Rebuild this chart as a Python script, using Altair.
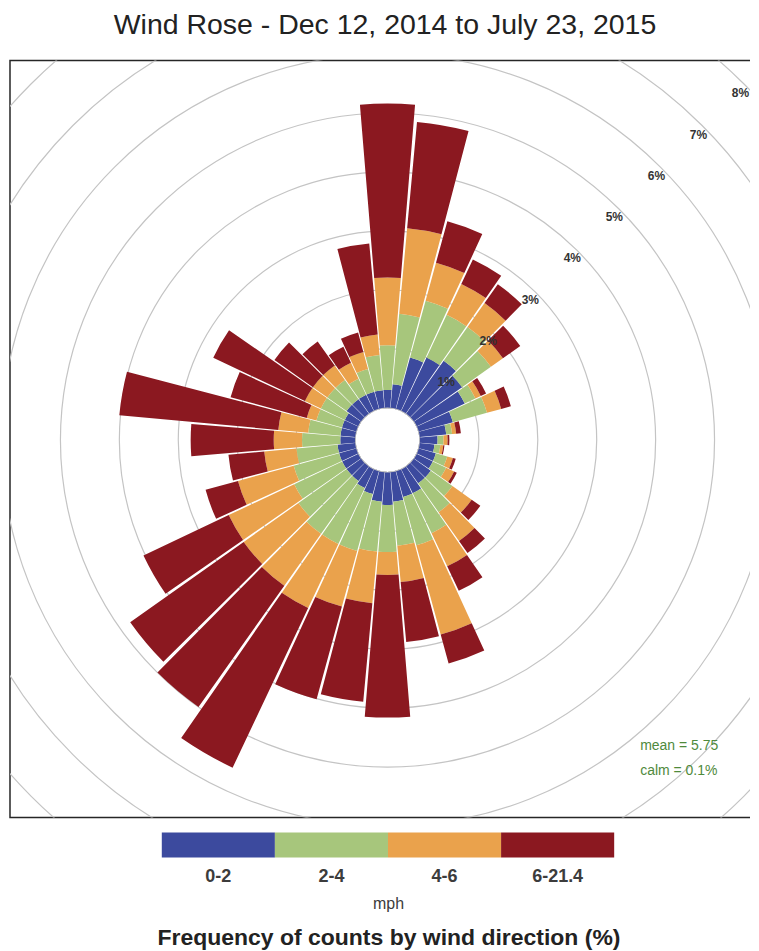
import math
import altair as alt
import pandas as pd

title_text = "Wind Rose - Dec 12, 2014 to July 23, 2015"
footer_text = "Frequency of counts by wind direction (%)"
unit_text = "mph"
stats_lines = ["mean = 5.75", "calm = 0.1%"]

directions = [10, 20, 30, 40, 50, 60, 70, 80, 90, 100, 110, 120,
              130, 140, 150, 160, 170, 180, 190, 200, 210, 220, 230, 240,
              250, 260, 270, 280, 290, 300, 310, 320, 330, 340, 350, 360]
speed_bins = ["0-2", "2-4", "4-6", "6-21.4"]
bin_colors = ["#3c4a9e", "#a7c67c", "#eaa24c", "#8b1820"]

# cumulative frequency (%) reached at the outer edge of each speed bin
edge_0_2 = [0.40, 0.90, 1.00, 1.10, 1.00, 0.90, 0.60, 0.45, 0.30, 0.25, 0.30, 0.30,
            0.35, 0.35, 0.45, 0.45, 0.50, 0.55, 0.50, 0.40, 0.35, 0.30, 0.30, 0.30,
            0.30, 0.30, 0.25, 0.25, 0.25, 0.25, 0.30, 0.30, 0.30, 0.30, 0.30, 0.30]
edge_2_4 = [1.60, 1.90, 1.80, 1.80, 1.60, 1.10, 1.20, 0.55, 0.40, 0.35, 0.50, 0.55,
            0.80, 0.95, 1.20, 1.30, 1.25, 1.35, 1.35, 1.40, 1.40, 1.40, 1.30, 1.20,
            1.10, 1.00, 0.90, 0.80, 0.70, 0.70, 0.70, 0.70, 0.60, 0.70, 0.90, 1.06]
edge_4_6 = [3.06, 2.57, 2.38, 2.30, 1.85, 1.20, 1.45, 0.62, 0.47, 0.40, 0.60, 0.70,
            1.20, 1.55, 1.82, 2.87, 1.87, 1.74, 2.23, 2.38, 2.60, 2.48, 2.44, 2.43,
            2.08, 1.55, 1.38, 1.31, 0.87, 1.00, 1.00, 1.00, 0.90, 1.00, 1.25, 2.21]
edge_all = [4.87, 3.30, 2.84, 2.69, 2.21, 1.30, 1.62, 0.70, 0.50, 0.42, 0.65, 0.75,
            1.38, 1.80, 2.28, 3.38, 2.89, 4.16, 3.91, 4.01, 5.60, 5.00, 4.80, 4.03,
            2.65, 2.16, 2.79, 4.02, 2.21, 2.72, 1.80, 1.50, 1.20, 1.34, 2.80, 5.16]

grid_pct = [1, 2, 3, 4, 5, 6, 7, 8]
grid_label = ["1%", "2%", "3%", "4%", "5%", "6%", "7%", "8%"]
label_angle = 45.5

# ---- tables built from the arrays above ----
half_width = 4.7
rows = []
for i, d in enumerate(directions):
    edges = [0.0, edge_0_2[i], edge_2_4[i], edge_4_6[i], edge_all[i]]
    for k, b in enumerate(speed_bins):
        rows.append({"dir": d, "speed": b, "t0": d - half_width, "t1": d + half_width,
                     "r0": edges[k], "r1": edges[k + 1]})
bars_df = pd.DataFrame(rows)
grid_df = pd.DataFrame({"pct": grid_pct, "label": grid_label,
                        "ang": [label_angle] * len(grid_pct)})
legend_df = pd.DataFrame({"speed": speed_bins})

VIEW_W, VIEW_H = 741, 758
CX, CY = 378, 380

THETA = alt.Scale(domain=[0, 360], range=[0, 2 * math.pi])
RSCALE = alt.Scale(type="linear", domain=[0, 8], range=[32.5, 32.5 + 8 * 59])
CSCALE = alt.Scale(domain=speed_bins, range=bin_colors)
FONT = "Liberation Sans"

grid = alt.Chart(grid_df).mark_arc(filled=False, stroke="#c4c4c4", strokeWidth=1.2, clip=True).encode(
    x=alt.value(CX), y=alt.value(CY),
    theta=alt.value(0), theta2=alt.value(2 * math.pi),
    radius=alt.Radius("pct:Q", scale=RSCALE, stack=False),
)

bars = alt.Chart(bars_df).mark_arc(clip=True).encode(
    x=alt.value(CX), y=alt.value(CY),
    theta=alt.Theta("t0:Q", scale=THETA, stack=False), theta2="t1:Q",
    radius=alt.Radius("r1:Q", scale=RSCALE, stack=False), radius2="r0:Q",
    color=alt.Color("speed:N", scale=CSCALE, legend=None),
)

labels = alt.Chart(grid_df).mark_text(font=FONT, fontSize=12, fontWeight="bold",
                                      color="#333333", clip=True, radiusOffset=-9).encode(
    x=alt.value(CX), y=alt.value(CY),
    theta=alt.Theta("ang:Q", scale=THETA, stack=False),
    radius=alt.Radius("pct:Q", scale=RSCALE, stack=False),
    text="label:N",
)

stats = alt.Chart(pd.DataFrame({"k": [0]})).mark_text(
    font=FONT, fontSize=14, color="#4f8a3c", align="left", baseline="middle", lineHeight=25
).encode(x=alt.value(631), y=alt.value(686), text=alt.value(stats_lines))

rose = alt.layer(grid, bars, labels, stats).properties(
    width=VIEW_W, height=VIEW_H,
    title=alt.TitleParams(title_text, font=FONT, fontSize=28.5, fontWeight="normal",
                          color="#222222", anchor="middle", offset=21, dx=5),
    # frame drawn on top, bottom and left only (the right edge lies off the page)
    view=alt.ViewBackground(stroke="#262626", strokeWidth=1.5,
                            strokeDash=[VIEW_W, VIEW_H, VIEW_W + VIEW_H]),
)

legend = alt.Chart(legend_df).mark_rect().encode(
    x=alt.X("speed:N", sort=speed_bins,
            scale=alt.Scale(range=[152, 605], paddingInner=0, paddingOuter=0),
            axis=alt.Axis(title=unit_text, orient="bottom", ticks=False, domain=False,
                          labelAngle=0, labelFont=FONT, labelFontSize=18, labelFontWeight="bold",
                          labelColor="#3c3c3c", labelPadding=10, titleFont=FONT,
                          titleFontSize=16, titleFontWeight="normal", titleColor="#3c3c3c",
                          titlePadding=10)),
    color=alt.Color("speed:N", scale=CSCALE, legend=None),
).properties(width=VIEW_W, height=25, view=alt.ViewBackground(strokeWidth=0))

chart = alt.vconcat(rose, legend, spacing=14).properties(
    title=alt.TitleParams(footer_text, orient="bottom", font=FONT, fontSize=23, fontWeight="bold",
                          color="#222222", anchor="middle", offset=16, dx=9),
    padding={"left": 1, "top": 1, "right": 0, "bottom": 0},
)

chart.save("out.html", embed_options={"renderer": "svg", "actions": False})
